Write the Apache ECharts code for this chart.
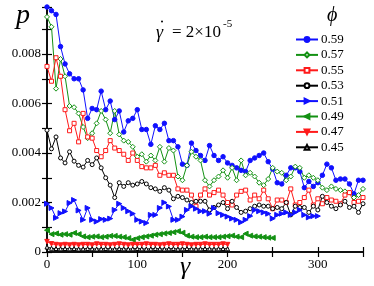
<!DOCTYPE html>
<html><head><meta charset="utf-8">
<script src="https://cdn.jsdelivr.net/npm/echarts@6/dist/echarts.min.js"></script>
<style>html,body{margin:0;padding:0;background:#fff}#c{width:374px;height:286px}</style>
</head><body><div id="c"></div>
<script>
// values in units of 1e-3 ; gamma sampled every 5 from 0
const gammaStep = 5;
const phiLabels = ['0.59','0.57','0.55','0.53','0.51','0.49','0.47','0.45'];
const p059 = [9.9,9.75,9.6,8.3,7.6,7.2,7.0,7.0,6.55,5.4,5.8,5.75,6.5,5.75,6.1,5.35,5.7,4.85,5.3,5.4,5.75,4.95,4.95,4.35,5.1,4.95,5.2,4.5,4.5,4.25,3.55,3.5,4.4,4.1,3.9,3.7,4.3,3.9,3.7,3.85,3.6,3.5,3.4,3.3,3.25,3.7,3.8,3.9,4.0,3.65,3.35,2.8,2.75,3.1,3.4,3.4,3.25,2.6,2.85,2.65,2.8,3.1,3.55,3.4,2.9,2.95,2.95,2.75,2.35,2.9,2.9];
const p057 = [9.5,9.1,6.6,7.8,7.1,5.9,5.85,5.6,5.05,4.6,4.8,5.2,5.7,5.35,4.8,5.7,4.75,4.5,4.45,4.25,3.85,3.95,3.65,3.9,3.7,4.25,3.65,4.2,4.1,3.05,2.9,3.5,4.05,3.85,3.7,2.9,2.65,2.9,3.05,3.3,3.0,3.4,2.9,3.7,3.1,3.2,3.05,2.8,2.7,2.95,3.4,3.25,3.2,2.9,3.05,3.45,3.4,3.0,3.1,3.0,2.9,2.6,2.5,2.65,2.55,2.5,2.45,2.4,2.2,2.3,2.55];
const p055 = [7.5,6.9,7.85,7.1,5.75,4.9,5.2,4.45,5.6,4.65,4.6,4.1,3.85,4.1,4.5,4.2,4.1,3.95,3.7,4.0,3.7,3.45,3.4,3.4,3.5,3.1,3.2,3.1,3.1,2.55,2.5,2.5,2.3,1.85,2.3,2.55,2.3,2.4,2.5,2.3,2.0,1.9,2.3,2.45,2.5,2.1,2.3,2.15,2.5,2.15,1.75,2.1,2.1,2.0,2.55,1.9,2.0,2.2,2.5,1.9,2.15,1.95,2.2,2.1,2.05,1.95,2.3,2.4,2.0,2.05,2.2];
const p053 = [4.92,4.17,4.65,3.8,3.6,4.05,3.67,3.5,3.43,3.7,3.53,3.8,3.4,3.0,2.7,2.2,2.8,2.65,2.8,2.7,2.75,2.85,2.75,2.6,2.55,2.45,2.6,2.5,2.15,2.25,2.2,2.1,2.0,2.05,2.05,2.05,1.7,1.8,1.9,2.0,1.75,2.05,1.8,1.6,1.65,1.75,1.85,1.9,1.85,1.85,1.75,1.8,1.75,2.0,1.5,1.85,1.8,1.8,1.6,1.85,1.7,2.25,2.0,1.85,1.75,1.9,2.05,1.8,1.85,1.6,1.95];
const p051 = [1.95,1.78,1.38,1.57,1.64,1.98,2.1,1.68,1.3,1.78,1.3,1.23,1.33,1.3,1.35,1.7,1.95,1.78,1.65,1.55,1.3,1.23,1.17,1.5,1.5,1.78,2.0,1.84,1.3,1.3,1.43,1.7,1.85,1.75,1.65,1.65,1.55,1.78,1.57,1.5,1.43,1.35,1.3,1.2,1.3,1.45,1.7,1.65,1.6,1.55,1.35,1.5,1.55,1.6,1.5,1.6,1.7,1.5,1.4,1.45,1.45];
const p049 = [0.88,0.72,0.75,0.7,0.72,0.7,0.77,0.72,0.63,0.6,0.62,0.63,0.6,0.62,0.65,0.65,0.62,0.6,0.56,0.5,0.56,0.6,0.63,0.66,0.7,0.72,0.75,0.77,0.8,0.84,0.78,0.66,0.62,0.6,0.6,0.62,0.6,0.6,0.6,0.62,0.64,0.66,0.62,0.6,0.74,0.66,0.63,0.62,0.6,0.58,0.57];
const p047 = [0.42,0.33,0.3,0.28,0.3,0.28,0.3,0.28,0.3,0.3,0.28,0.32,0.3,0.3,0.28,0.3,0.32,0.3,0.28,0.3,0.3,0.3,0.32,0.3,0.3,0.28,0.3,0.32,0.3,0.3,0.32,0.3,0.28,0.3,0.3,0.32,0.3,0.3,0.3,0.32,0.3];
const p045 = [0.2,0.15,0.14,0.13,0.14,0.13,0.14,0.12,0.13,0.14,0.13,0.12,0.13,0.14,0.13,0.12,0.14,0.13,0.12,0.13,0.14,0.13,0.12,0.13,0.14,0.13,0.12,0.13,0.14,0.12,0.13,0.14,0.13,0.12,0.13,0.14,0.13,0.12,0.13,0.14,0.13];
const xTicks = [0,100,200,300];
const yTicks = [0,2,4,6,8];

const BLUE='#1010ff', GREEN='#139113', RED='#ff1a1a', BLACK='#000';
const font = 'Liberation Serif, DejaVu Serif, serif';
function pts(a){ return a.map((v,i)=>[i*gammaStep, v]); }
function mk(name, arr, color, symbol, rot, hollow, size){
  return {name, type:'line', data: pts(arr), symbol, symbolSize: size||4, symbolRotate: rot||0,
    showAllSymbol:true, animation:false,
    lineStyle:{color, width:1}, itemStyle:{color: hollow?'#fff':color, borderColor:color, borderWidth:1}};
}
const series = [
  mk('0.59', p059, BLUE, 'circle', 0, false, 4.5),
  mk('0.57', p057, GREEN, 'diamond', 0, true, 5),
  mk('0.55', p055, RED, 'rect', 0, true, 4),
  mk('0.53', p053, BLACK, 'circle', 0, true, 4),
  mk('0.51', p051, BLUE, 'triangle', -90, false, 5),
  mk('0.49', p049, GREEN, 'triangle', 90, false, 5),
  mk('0.47', p047, RED, 'triangle', 180, false, 4.5),
  mk('0.45', p045, BLACK, 'triangle', 0, true, 4),
];
const xCommon = {type:'value', min:0, max:350, interval:50,
  axisLine:{show:true, lineStyle:{color:'#000', width:1.5}},
  axisTick:{show:true, inside:true, length:5, lineStyle:{color:'#000', width:1.2}},
  splitLine:{show:false}};
const yCommon = {type:'value', min:0, max:9.9, interval:1,
  axisLine:{show:true, lineStyle:{color:'#000', width:1.5}},
  axisTick:{show:true, inside:true, length:5, lineStyle:{color:'#000', width:1.2}},
  splitLine:{show:false}};
const chart = echarts.init(document.getElementById('c'));
chart.setOption({
  animation:false,
  grid:{left:47, right:11, top:7, bottom:34, containLabel:false},
  xAxis:[
    Object.assign({}, xCommon, {position:'bottom', axisLabel:{show:true, margin:6, fontFamily:font, fontSize:13, color:'#000',
      formatter:v=> xTicks.includes(v)? String(v):''}}),
    Object.assign({}, xCommon, {position:'top', axisLabel:{show:false}})
  ],
  yAxis:[
    Object.assign({}, yCommon, {position:'left', axisLabel:{show:true, margin:6, fontFamily:font, fontSize:13, color:'#000',
      formatter:v=> { const r=Math.round(v); if(Math.abs(v-r)>1e-6 || !yTicks.includes(r)) return ''; return r===0?'0':(r/1000).toFixed(3);}}}),
    Object.assign({}, yCommon, {position:'right', axisLabel:{show:false}})
  ],
  legend:{orient:'vertical', left:290, top:28, itemWidth:22, itemHeight:6, itemGap:2.4,
    textStyle:{fontFamily:font, fontSize:13, color:'#000', padding:[0,0,0,-2]},
    data: phiLabels},
  series,
  graphic:[
    {type:'text', left:16, top:2, style:{text:'p', font:'italic 28px '+font, fill:'#000'}},
    {type:'text', left:180, top:254, style:{text:'γ', font:'italic 26px '+font, fill:'#000'}},
    {type:'text', left:327, top:6, style:{text:'ϕ', font:'italic 20px '+font, fill:'#000'}},
    {type:'text', x:156, y:24, style:{text:'γ', font:'italic 18px '+font, fill:'#000'}, z:100},
    {type:'circle', shape:{cx:162, cy:21.5, r:1}, style:{fill:'#000'}, z:100},
    {type:'text', x:172, y:24, style:{text:'= 2×10', font:'17px '+font, fill:'#000'}, z:100},
    {type:'text', x:223, y:19, style:{text:'-5', font:'11px '+font, fill:'#000'}, z:100}
  ]
});
</script></body></html>
